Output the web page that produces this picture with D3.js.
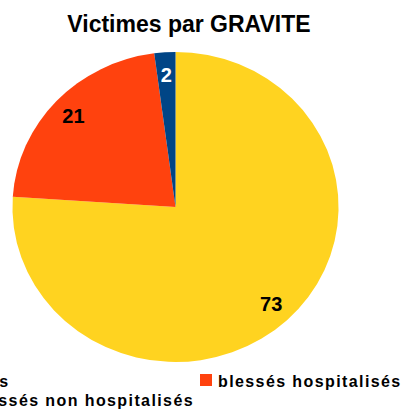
<!DOCTYPE html>
<html>
<head>
<meta charset="utf-8">
<script src="https://cdn.jsdelivr.net/npm/d3@7"></script>
<style>
  body { margin: 0; background: #fff; }
  svg { display: block; font-family: "Liberation Sans", Arial, sans-serif; }
</style>
</head>
<body>
<div class="chart"></div>
<script>
// Data
const categories = ["blessés non hospitalisés", "blessés hospitalisés", "tués"];
const values = [73, 21, 2];
const colors = ["#ffd320", "#ff420e", "#004586"];
const labelColors = ["#000", "#000", "#fff"];

const width = 403;
const height = 416;

const svg = d3.select(".chart").append("svg")
  .attr("width", width)
  .attr("height", height);

// Title
svg.append("text")
  .attr("x", 189)
  .attr("y", 32)
  .attr("text-anchor", "middle")
  .style("font-size", "23px")
  .style("font-weight", "bold")
  .text("Victimes par GRAVITE");

// Pie (slightly stretched horizontally, like the original)
const cx = 175.5, cy = 207;
const radius = 155;
const sx = 1.052;

const pie = d3.pie().sort(null).value(d => d);
const arcs = pie(values);

const arc = d3.arc().innerRadius(0).outerRadius(radius);
const labelArc = d3.arc().innerRadius(133).outerRadius(133);

const g = svg.append("g")
  .attr("transform", `translate(${cx},${cy})`);

g.append("g")
  .attr("transform", `scale(${sx},1)`)
  .selectAll("path")
  .data(arcs)
  .join("path")
  .attr("d", arc)
  .attr("fill", (d, i) => colors[i]);

g.selectAll("text.label")
  .data(arcs)
  .join("text")
  .attr("class", "label")
  .attr("x", d => labelArc.centroid(d)[0] * sx)
  .attr("y", d => labelArc.centroid(d)[1])
  .attr("dy", "0.36em")
  .attr("text-anchor", "middle")
  .style("font-size", "20px")
  .style("font-weight", "bold")
  .style("fill", (d, i) => labelColors[i])
  .text(d => d.data);

// Legend (partly cut off on the left, as in the original)
const legendItems = [
  { name: categories[2], color: colors[2], x: -29, y: 387 },
  { name: categories[1], color: colors[1], x: 218, y: 387 },
  { name: categories[0], color: colors[0], x: -29, y: 406 }
];

const legend = svg.append("g").attr("class", "legend");

legend.selectAll("rect")
  .data(legendItems)
  .join("rect")
  .attr("x", d => d.x - 18)
  .attr("y", d => d.y - 13)
  .attr("width", 12)
  .attr("height", 12)
  .attr("fill", d => d.color);

legend.selectAll("text")
  .data(legendItems)
  .join("text")
  .attr("x", d => d.x)
  .attr("y", d => d.y)
  .style("font-size", "16px")
  .style("font-weight", "bold")
  .style("letter-spacing", "1.4px")
  .text(d => d.name);
</script>
</body>
</html>
